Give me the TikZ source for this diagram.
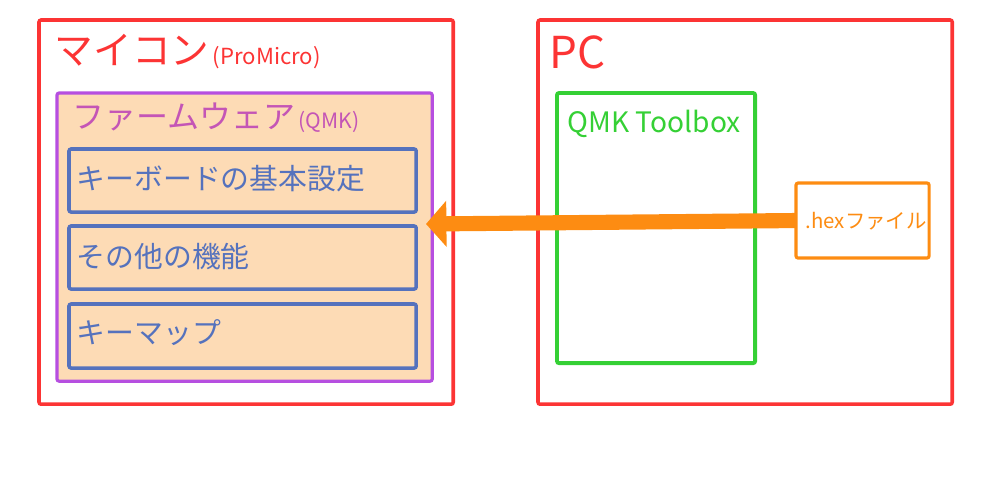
\documentclass[tikz,border=0pt]{standalone}
\usepackage{fontspec}
\setmainfont{Noto Sans CJK JP}
\usetikzlibrary{arrows.meta}
\definecolor{mcured}{HTML}{FC3434}
\definecolor{fwpurple}{HTML}{B64FE0}
\definecolor{fwtext}{HTML}{C455B6}
\definecolor{fwfill}{HTML}{FDDBB5}
\definecolor{keyblue}{HTML}{5572BD}
\definecolor{toolgreen}{HTML}{35D035}
\definecolor{hexorange}{HTML}{FD8C12}

\begin{document}
\begin{tikzpicture}[x=0.01cm, y=-0.01cm,
  box/.style={draw, inner sep=0pt, outer sep=0pt, anchor=north west, rounded corners=0.6pt},
  lbl/.style={anchor=west, inner sep=0pt}]
\useasboundingbox (0,0) rectangle (1000,500);
% outer boxes
\node[box, mcured, line width=1pt, minimum width=4.14cm, minimum height=3.84cm] (mcu) at (39,20) {};
\node[box, mcured, line width=1pt, minimum width=4.14cm, minimum height=3.84cm] (pc) at (538,20) {};
\node[lbl, mcured, font=\fontsize{11}{12}\selectfont] (mcutitle) at (54,52) {マイコン\kern1pt{\fontsize{6.3}{7}\selectfont(ProMicro)}};
\node[lbl, mcured, font=\fontsize{12.5}{13}\selectfont] (pctitle) at (549,52) {PC};
% firmware
\node[box, fwpurple, fill=fwfill, line width=0.9pt, minimum width=3.75cm, minimum height=2.88cm] (fw) at (57,93) {};
\node[lbl, fwtext, font=\fontsize{9.1}{10}\selectfont] (fwtitle) at (72,118) {ファームウェア\kern0.8pt{\fontsize{6}{7}\selectfont(QMK)}};
\node[box, keyblue, line width=1pt, minimum width=3.47cm, minimum height=0.63cm] (basic) at (69,149) {};
\node[box, keyblue, line width=1pt, minimum width=3.47cm, minimum height=0.63cm] (other) at (69,226) {};
\node[box, keyblue, line width=1pt, minimum width=3.47cm, minimum height=0.64cm] (keymap) at (69,304) {};
\node[lbl, keyblue, font=\fontsize{8.2}{9}\selectfont] at (76,179) {キーボードの基本設定};
\node[lbl, keyblue, font=\fontsize{8.2}{9}\selectfont] at (76,257) {その他の機能};
\node[lbl, keyblue, font=\fontsize{8.2}{9}\selectfont] at (76,333) {キーマップ};
% pc side
\node[box, toolgreen, line width=1.1pt, minimum width=1.98cm, minimum height=2.70cm] (tool) at (557,93) {};
\node[lbl, toolgreen, font=\fontsize{8}{9}\selectfont] at (567,124) {QMK Toolbox};
\node[box, hexorange, fill=white, line width=0.9pt, minimum width=1.33cm, minimum height=0.75cm] (hex) at (796,183) {};
\node[lbl, hexorange, font=\fontsize{5.8}{7}\selectfont] at (805,221) {.hexファイル};
% write
\coordinate (tip) at (426,224);
\draw[hexorange, line width=4.3pt, -{Triangle[length=5.8pt, width=12.8pt]}] (hex.west) -- (tip);
\end{tikzpicture}
\end{document}
